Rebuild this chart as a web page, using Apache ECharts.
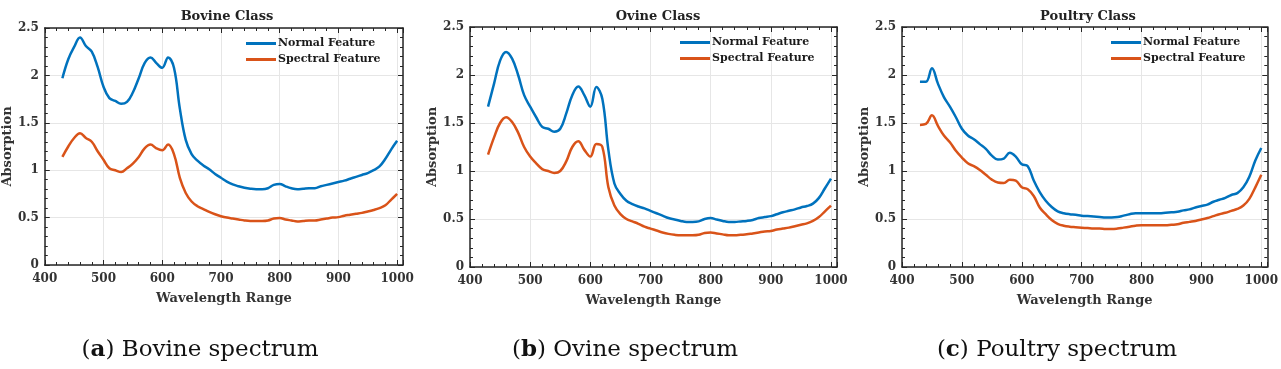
<!DOCTYPE html>
<html>
<head>
<meta charset="utf-8">
<script src="https://cdn.jsdelivr.net/npm/echarts@6/dist/echarts.min.js"></script>
<style>
  html, body { margin: 0; padding: 0; background: #fff; }
  #main { width: 1281px; height: 369px; }
</style>
</head>
<body>
<div id="main"></div>
<script>
  var wavelengths = [430, 440, 450, 460, 470, 480, 490, 500, 510, 520,
    530, 540, 550, 560, 570, 580, 590, 600, 610, 620,
    630, 640, 650, 660, 670, 680, 690, 700, 710, 720,
    730, 740, 750, 760, 770, 780, 790, 800, 810, 820,
    830, 840, 850, 860, 870, 880, 890, 900, 910, 920,
    930, 940, 950, 960, 970, 980, 990, 1000];

  var bovineNormal = [1.97, 2.17, 2.30, 2.40, 2.31, 2.25, 2.09, 1.88, 1.76, 1.73,
    1.70, 1.72, 1.82, 1.97, 2.13, 2.19, 2.13, 2.08, 2.19, 2.08,
    1.65, 1.32, 1.17, 1.10, 1.05, 1.01, 0.96, 0.92, 0.88, 0.85,
    0.83, 0.815, 0.805, 0.80, 0.80, 0.81, 0.845, 0.855, 0.83, 0.81,
    0.80, 0.805, 0.81, 0.81, 0.83, 0.845, 0.86, 0.875, 0.89, 0.91,
    0.93, 0.95, 0.97, 1.00, 1.04, 1.12, 1.22, 1.31];
  var bovineSpectral = [1.14, 1.25, 1.34, 1.39, 1.34, 1.30, 1.20, 1.11, 1.02, 1.00,
    0.98, 1.02, 1.07, 1.14, 1.23, 1.27, 1.23, 1.21, 1.27, 1.17,
    0.92, 0.76, 0.67, 0.62, 0.59, 0.56, 0.535, 0.515, 0.50, 0.49,
    0.48, 0.47, 0.465, 0.465, 0.465, 0.47, 0.49, 0.495, 0.48, 0.47,
    0.46, 0.465, 0.47, 0.47, 0.48, 0.49, 0.50, 0.505, 0.52, 0.53,
    0.54, 0.55, 0.565, 0.58, 0.60, 0.63, 0.69, 0.75];

  var ovineNormal = [1.67, 1.91, 2.15, 2.24, 2.17, 2.00, 1.79, 1.67, 1.56, 1.46,
    1.44, 1.41, 1.44, 1.60, 1.79, 1.88, 1.79, 1.67, 1.875, 1.75,
    1.22, 0.87, 0.76, 0.69, 0.655, 0.63, 0.61, 0.585, 0.56, 0.535,
    0.51, 0.495, 0.48, 0.47, 0.47, 0.475, 0.50, 0.51, 0.495, 0.48,
    0.47, 0.47, 0.475, 0.48, 0.49, 0.51, 0.52, 0.53, 0.55, 0.57,
    0.585, 0.60, 0.62, 0.635, 0.66, 0.72, 0.82, 0.92];
  var ovineSpectral = [1.17, 1.35, 1.50, 1.56, 1.51, 1.40, 1.25, 1.15, 1.08, 1.02,
    1.00, 0.98, 1.00, 1.10, 1.25, 1.31, 1.22, 1.15, 1.28, 1.25,
    0.83, 0.64, 0.55, 0.50, 0.475, 0.45, 0.42, 0.40, 0.38, 0.36,
    0.345, 0.335, 0.33, 0.33, 0.33, 0.335, 0.355, 0.36, 0.35, 0.34,
    0.33, 0.33, 0.335, 0.34, 0.35, 0.36, 0.37, 0.375, 0.39, 0.40,
    0.41, 0.425, 0.44, 0.455, 0.48, 0.52, 0.58, 0.64];

  var poultryNormal = [1.93, 1.93, 2.07, 1.91, 1.77, 1.67, 1.56, 1.44, 1.37, 1.33,
    1.28, 1.23, 1.16, 1.12, 1.13, 1.19, 1.15, 1.07, 1.05, 0.90,
    0.78, 0.69, 0.625, 0.58, 0.56, 0.55, 0.545, 0.535, 0.53, 0.525,
    0.52, 0.515, 0.515, 0.52, 0.535, 0.55, 0.56, 0.56, 0.56, 0.56,
    0.56, 0.565, 0.57, 0.575, 0.59, 0.60, 0.62, 0.635, 0.65, 0.68,
    0.70, 0.72, 0.75, 0.77, 0.83, 0.94, 1.11, 1.24];
  var poultrySpectral = [1.48, 1.49, 1.58, 1.47, 1.37, 1.30, 1.21, 1.14, 1.08, 1.05,
    1.01, 0.96, 0.91, 0.88, 0.875, 0.91, 0.90, 0.83, 0.81, 0.74,
    0.62, 0.55, 0.49, 0.45, 0.43, 0.42, 0.415, 0.41, 0.405, 0.40,
    0.40, 0.395, 0.395, 0.40, 0.41, 0.42, 0.43, 0.435, 0.435, 0.435,
    0.435, 0.435, 0.44, 0.445, 0.46, 0.47, 0.48, 0.495, 0.51, 0.53,
    0.55, 0.565, 0.585, 0.605, 0.64, 0.71, 0.83, 0.96];

  var panelTitles = ['Bovine Class', 'Ovine Class', 'Poultry Class'];
  var captionTags = ['a', 'b', 'c'];
  var captionNames = ['Bovine spectrum', 'Ovine spectrum', 'Poultry spectrum'];
  var seriesNames = ['Normal Feature', 'Spectral Feature'];
  var panelData = [
    [bovineNormal, bovineSpectral],
    [ovineNormal, ovineSpectral],
    [poultryNormal, poultrySpectral]
  ];

  var colors = ['#0072BD', '#D95319'];
  var boldFont = 'DejaVu Serif';
  var axisColor = '#262626';

  // pixel boxes of the three plots
  var grids = [
    {left: 44, top: 28, width: 359, height: 237},
    {left: 470, top: 27, width: 367, height: 240},
    {left: 902, top: 27, width: 366, height: 240}
  ];
  var titleCenters = [222, 653, 1083];
  var captionCenters = [195, 620, 1052];
  var yNameGaps = [27, 30, 31];

  function pairs(xs, ys) {
    var out = [];
    for (var i = 0; i < xs.length; i++) out.push([xs[i], ys[i]]);
    return out;
  }

  var option = {
    animation: false,
    backgroundColor: '#fff',
    title: [],
    legend: [],
    grid: [],
    xAxis: [],
    yAxis: [],
    series: []
  };

  for (var p = 0; p < 3; p++) {
    var g = grids[p];
    option.grid.push({left: g.left, top: g.top, width: g.width, height: g.height, show: false});

    option.title.push({
      text: panelTitles[p],
      left: titleCenters[p],
      top: 5,
      textAlign: 'center',
      textStyle: {fontFamily: boldFont, fontWeight: 'bold', fontSize: 13, color: '#222'}
    });
    option.title.push({
      text: '{n|(}{b|' + captionTags[p] + '}{n|) ' + captionNames[p] + '}',
      left: captionCenters[p],
      top: 334,
      textAlign: 'center',
      textStyle: {
        fontWeight: 'normal',
        rich: {
          b: {fontFamily: 'DejaVu Serif', fontSize: 23, fontWeight: 'bold', color: '#111'},
          n: {fontFamily: 'DejaVu Serif', fontSize: 23, fontWeight: 'normal', color: '#111'}
        }
      }
    });

    option.legend.push({
      data: seriesNames,
      orient: 'vertical',
      left: g.left + g.width - 157,
      top: g.top + 10,
      itemWidth: 30,
      itemHeight: 3,
      itemGap: 5,
      icon: 'rect',
      padding: 0,
      selectedMode: false,
      textStyle: {fontFamily: boldFont, fontWeight: 'bold', fontSize: 11, color: '#1a1a1a', padding: [0, 0, 0, -3]}
    });

    var common = {
      gridIndex: p,
      type: 'value',
      axisLine: {show: true, onZero: false, lineStyle: {color: axisColor, width: 1.5}},
      axisTick: {show: true, inside: true, length: 5, lineStyle: {color: axisColor, width: 1}},
      minorTick: {show: true, splitNumber: 5, length: 3, lineStyle: {color: axisColor, width: 1}}
    };

    // bottom and top x axes
    option.xAxis.push(Object.assign({}, common, {
      position: 'bottom',
      min: 400, max: 1010, interval: 100,
      name: 'Wavelength Range',
      nameLocation: 'middle',
      nameGap: 27,
      nameTextStyle: {fontFamily: boldFont, fontWeight: 'bold', fontSize: 13, color: '#333'},
      axisLabel: {
        showMaxLabel: false, margin: 8, fontFamily: boldFont, fontWeight: 'bold', fontSize: 12, color: '#333',
        formatter: function (v) { return String(v); }
      },
      splitLine: {show: true, lineStyle: {color: '#e6e6e6', width: 1}}
    }));
    option.xAxis.push(Object.assign({}, common, {
      position: 'top',
      min: 400, max: 1010, interval: 100,
      axisLabel: {show: false},
      splitLine: {show: false}
    }));

    // left and right y axes
    option.yAxis.push(Object.assign({}, common, {
      position: 'left',
      min: 0, max: 2.5, interval: 0.5,
      name: 'Absorption',
      nameLocation: 'middle',
      nameGap: yNameGaps[p],
      nameTextStyle: {fontFamily: boldFont, fontWeight: 'bold', fontSize: 13, color: '#333'},
      axisLabel: {margin: 6, fontFamily: boldFont, fontWeight: 'bold', fontSize: 12, color: '#333'},
      splitLine: {show: true, lineStyle: {color: '#e6e6e6', width: 1}}
    }));
    option.yAxis.push(Object.assign({}, common, {
      position: 'right',
      min: 0, max: 2.5, interval: 0.5,
      axisLabel: {show: false},
      splitLine: {show: false}
    }));

    for (var s = 0; s < 2; s++) {
      option.series.push({
        name: seriesNames[s],
        type: 'line',
        xAxisIndex: p * 2,
        yAxisIndex: p * 2,
        data: pairs(wavelengths, panelData[p][s]),
        smooth: 0.4,
        symbol: 'none',
        color: colors[s],
        lineStyle: {width: 2.5, color: colors[s]},
        z: 3 - s
      });
    }
  }

  var chart = echarts.init(document.getElementById('main'));
  chart.setOption(option);
</script>
</body>
</html>
